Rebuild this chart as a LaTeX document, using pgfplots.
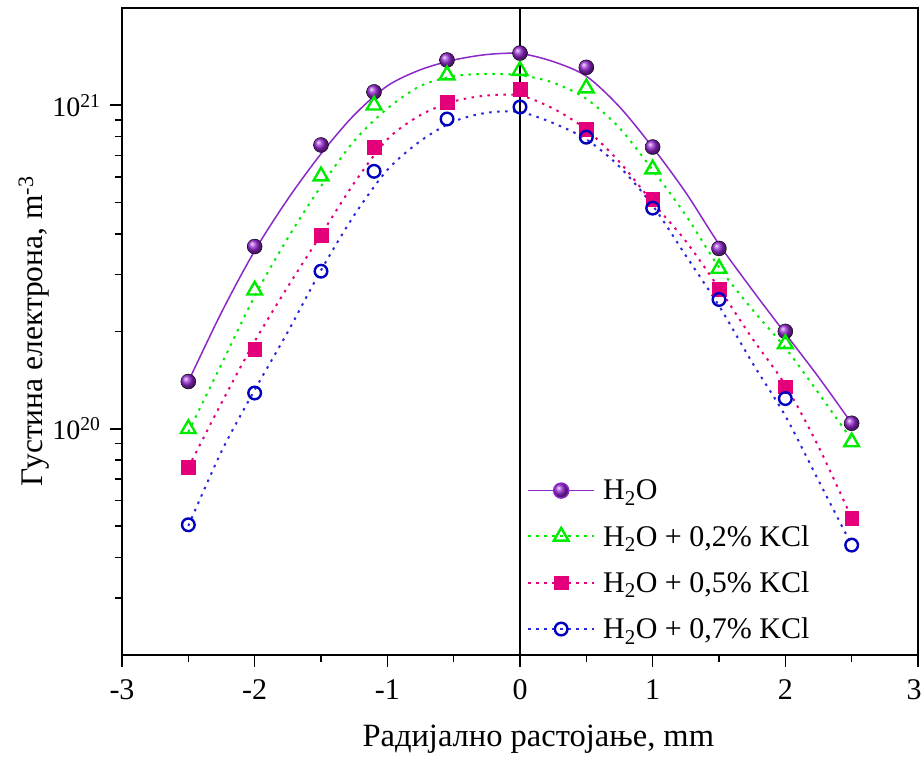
\documentclass[border=0pt]{standalone}
\usepackage{fontspec}
\setmainfont{Liberation Serif}
\usepackage{pgfplots}
\pgfplotsset{compat=1.18}
\definecolor{cpurl}{RGB}{140,40,200}
\definecolor{cpurm}{RGB}{150,40,210}
\definecolor{cgreen}{RGB}{0,235,0}
\definecolor{cpink}{RGB}{228,0,122}
\definecolor{cbluel}{RGB}{40,40,225}
\definecolor{cbluem}{RGB}{0,0,190}
\begin{document}
\begin{tikzpicture}[font=\fontsize{30}{35}\selectfont]
\useasboundingbox (0,0) rectangle (922pt,758pt);
\begin{axis}[at={(122pt,103pt)}, anchor=south west, scale only axis,
  width=796pt, height=647pt,
  xmin=-3, xmax=3, ymode=log, ymin=2e19, ymax=2e21,
  xtick={-3,-2,-1,0,1,2,3}, xticklabels={-3,-2,-1,0,1,2,\makebox[7pt][r]{3}},
  minor xtick={-2.5,-1.5,-0.5,0.5,1.5,2.5},
  ytick={1e20,1e21}, yticklabels={10\textsuperscript{20},10\textsuperscript{21}},
  minor ytick={3e19,4e19,5e19,6e19,7e19,8e19,9e19,2e20,3e20,4e20,5e20,6e20,7e20,8e20,9e20},
  tick pos=left, tick align=outside,
  major tick length=12pt, minor tick length=7pt,
  every tick/.style={black, line width=1.6pt},
  axis line style={line width=1.6pt},
  xticklabel style={font=\fontsize{30}{34}\selectfont, yshift=-9pt},
  yticklabel style={font=\fontsize{28}{32}\selectfont, xshift=-6pt},
  xlabel={Радијално растојање, mm},
  ylabel={Густина електрона, m\textsuperscript{-3}},
  xlabel style={at={(axis description cs:0.523,-0.131)}, anchor=center, font=\fontsize{32.5}{36}\selectfont},
  ylabel style={at={(axis description cs:-0.111,0.5)}, anchor=center, font=\fontsize{31.5}{36}\selectfont},
  legend style={at={(axis description cs:0.505,0.277)}, anchor=north west, draw=none, fill=none,
    row sep=20pt, font=\fontsize{30}{35}\selectfont},
  legend cell align=left,
  legend image code/.code={\draw[mark repeat=2,mark phase=2] plot coordinates {(0pt,0pt)(33pt,0pt)(66pt,0pt)};},
]
% vertical line at x = 0
\addplot[black, line width=1.6pt, forget plot] coordinates {(0,2e19) (0,2e21)};

% fit curves
\addplot[cpurl, line width=1.5pt, smooth, no marks, forget plot] coordinates {
(-2.5,1.40e20) (-2.25,2.29e20) (-2,3.55e20) (-1.75,5.13e20) (-1.5,7.08e20) (-1.25,9.33e20) (-1,1.148e21) (-0.75,1.288e21) (-0.5,1.380e21) (-0.25,1.435e21) (0,1.445e21) (0.25,1.365e21) (0.5,1.230e21) (0.75,9.89e20) (1,7.41e20) (1.25,5.37e20) (1.5,3.72e20) (1.75,2.69e20) (2,1.97e20) (2.25,1.445e20) (2.5,1.04e20)};
\addplot[cgreen, line width=2pt, dash pattern=on 2.5pt off 5.5pt, smooth, no marks, forget plot] coordinates {
(-2.5,9.77e19) (-2.25,1.585e20) (-2,2.57e20) (-1.75,3.89e20) (-1.5,5.62e20) (-1.25,7.76e20) (-1,9.77e20) (-0.75,1.148e21) (-0.5,1.230e21) (-0.25,1.250e21) (0,1.239e21) (0.25,1.175e21) (0.5,1.047e21) (0.75,8.51e20) (1,6.31e20) (1.25,4.57e20) (1.5,3.16e20) (1.75,2.34e20) (2,1.78e20) (2.25,1.29e20) (2.5,9.25e19)};
\addplot[cpink, line width=2pt, dash pattern=on 2.5pt off 5.5pt, smooth, no marks, forget plot] coordinates {
(-2.5,7.59e19) (-2.25,1.202e20) (-2,1.862e20) (-1.75,2.75e20) (-1.5,3.98e20) (-1.25,5.75e20) (-1,7.85e20) (-0.75,9.33e20) (-0.5,1.028e21) (-0.25,1.072e21) (0,1.072e21) (0.25,9.77e20) (0.5,8.41e20) (0.75,6.68e20) (1,5.01e20) (1.25,3.80e20) (1.5,2.72e20) (1.75,1.905e20) (2,1.365e20) (2.25,8.81e19) (2.5,5.30e19)};
\addplot[cbluel, line width=2pt, dash pattern=on 2.5pt off 5.5pt, smooth, no marks, forget plot] coordinates {
(-2.5,5.01e19) (-2.25,8.51e19) (-2,1.318e20) (-1.75,1.995e20) (-1.5,3.09e20) (-1.25,4.57e20) (-1,6.31e20) (-0.75,7.76e20) (-0.5,8.91e20) (-0.25,9.48e20) (0,9.53e20) (0.25,8.81e20) (0.5,7.85e20) (0.75,6.46e20) (1,4.90e20) (1.25,3.43e20) (1.5,2.40e20) (1.75,1.603e20) (2,1.096e20) (2.25,6.92e19) (2.5,4.37e19)};

% data markers
\addplot[only marks, mark=ball, mark size=7.5pt, mark options={ball color=cpurm}, forget plot] coordinates {
(-2.5,1.40e20) (-2,3.66e20) (-1.5,7.54e20) (-1.1,1.10e21) (-0.55,1.38e21) (0,1.45e21) (0.5,1.31e21) (1,7.43e20) (1.5,3.61e20) (2,2.0e20) (2.5,1.04e20)};
\addplot[only marks, mark=triangle, mark size=8.5pt, mark options={cgreen, line width=2.4pt, fill=white}, forget plot] coordinates {
(-2.5,1.0e20) (-2,2.68e20) (-1.5,6.04e20) (-1.1,1.0e21) (-0.55,1.24e21) (0,1.28e21) (0.5,1.13e21) (1,6.35e20) (1.5,3.13e20) (2,1.83e20) (2.5,9.1e19)};
\addplot[only marks, mark=square*, mark size=6.8pt, mark options={cpink, fill=cpink, line width=0.5pt}, forget plot] coordinates {
(-2.5,7.62e19) (-2,1.76e20) (-1.5,3.96e20) (-1.1,7.43e20) (-0.55,1.02e21) (0,1.12e21) (0.5,8.45e20) (1,5.13e20) (1.5,2.70e20) (2,1.35e20) (2.5,5.3e19)};
\addplot[only marks, mark=o, mark size=6.3pt, mark options={cbluem, line width=2.4pt, fill=white}, forget plot] coordinates {
(-2.5,5.05e19) (-2,1.29e20) (-1.5,3.07e20) (-1.1,6.25e20) (-0.55,9.07e20) (0,9.88e20) (0.5,7.97e20) (1,4.81e20) (1.5,2.51e20) (2,1.24e20) (2.5,4.37e19)};

% legend
\addlegendimage{cpurl, line width=1.5pt, mark=ball, mark size=7.5pt, mark options={ball color=cpurm, solid}}
\addlegendentry{\hspace{6pt}H\textsubscript{2}O}
\addlegendimage{cgreen, line width=2pt, dash pattern=on 2.5pt off 5.5pt, mark=triangle, mark size=8.5pt, mark options={cgreen, solid, line width=2.4pt, fill=white}}
\addlegendentry{\hspace{6pt}H\textsubscript{2}O + 0,2\% KCl}
\addlegendimage{cpink, line width=2pt, dash pattern=on 2.5pt off 5.5pt, mark=square*, mark size=6.8pt, mark options={cpink, solid, fill=cpink, line width=0.5pt}}
\addlegendentry{\hspace{6pt}H\textsubscript{2}O + 0,5\% KCl}
\addlegendimage{cbluel, line width=2pt, dash pattern=on 2.5pt off 5.5pt, mark=o, mark size=6.3pt, mark options={cbluem, solid, line width=2.4pt, fill=white}}
\addlegendentry{\hspace{6pt}H\textsubscript{2}O + 0,7\% KCl}
\end{axis}
\end{tikzpicture}
\end{document}
